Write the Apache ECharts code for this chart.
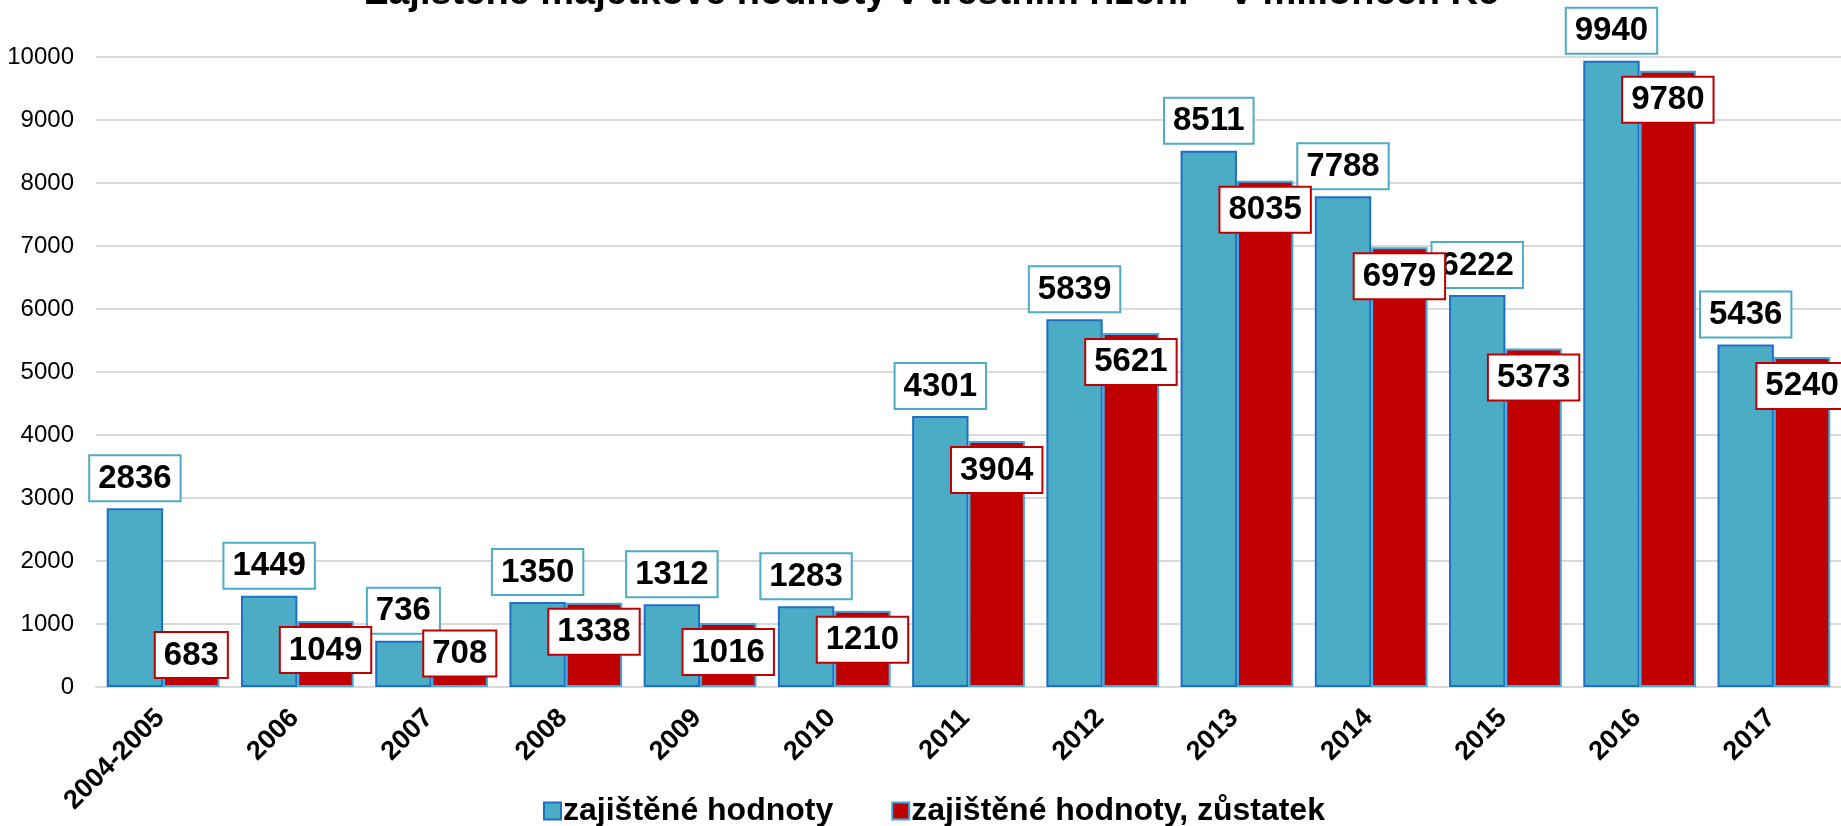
<!DOCTYPE html>
<html>
<head>
<meta charset="utf-8">
<script src="https://cdn.jsdelivr.net/npm/echarts@6/dist/echarts.min.js"></script>
<style>
html,body{margin:0;padding:0;background:#fff;}
#chart{width:1841px;height:826px;}
</style>
</head>
<body>
<div id="chart"></div>
<script>
const titleText = 'Zajištěné majetkové hodnoty v trestním řízení – v milionech Kč';
const categories = ['2004-2005','2006','2007','2008','2009','2010','2011','2012','2013','2014','2015','2016','2017'];
const seriesNames = ['zajištěné hodnoty','zajištěné hodnoty, zůstatek'];
const seized = [2836,1449,736,1350,1312,1283,4301,5839,8511,7788,6222,9940,5436];
const remaining = [683,1049,708,1338,1016,1210,3904,5621,8035,6979,5373,9780,5240];

const FONT = "'Liberation Sans', Arial, sans-serif";
const chart = echarts.init(document.getElementById('chart'), null, {renderer:'canvas'});

const remainingData = remaining.map(v => v < 900 ? {value:v, label:{offset:[0,-18]}} : v);

const labelBase = {
  show:true,
  formatter:'{c}',
  fontFamily:FONT,
  fontSize:33,
  fontWeight:'bold',
  color:'#000',
  backgroundColor:'#fff',
  borderWidth:2,
  padding:[6,8,5,8]
};

chart.setOption({
  animation:false,
  backgroundColor:'#fff',
  title:{
    text:titleText,
    left:927,
    textAlign:'center',
    top:-30,
    textStyle:{fontFamily:FONT,fontSize:38,fontWeight:'bold',color:'#000'}
  },
  legend:{
    data:seriesNames,
    left:538,
    top:790,
    icon:'rect',
    itemWidth:17,
    itemHeight:17,
    itemGap:58,
    textStyle:{fontFamily:FONT,fontSize:32,fontWeight:'bold',color:'#000',padding:[0,0,0,-3]}
  },
  grid:{left:96,top:57,width:1755,height:630,containLabel:false},
  xAxis:{
    type:'category',
    data:categories,
    axisLine:{show:true,lineStyle:{color:'#d9d9d9',width:2}},
    axisTick:{show:false},
    axisLabel:{rotate:45,interval:0,margin:24,fontFamily:FONT,fontSize:27,fontWeight:'bold',color:'#000',padding:[0,4,0,0]}
  },
  yAxis:{
    type:'value',
    min:0,max:10000,interval:1000,
    axisLine:{show:false},
    axisTick:{show:false},
    splitLine:{lineStyle:{color:'#d9d9d9',width:2}},
    axisLabel:{margin:22,fontFamily:FONT,fontSize:24,color:'#000',formatter:v => String(v)}
  },
  series:[
    {
      name:seriesNames[0],
      type:'bar',
      data:seized,
      barGap:'0%',
      barCategoryGap:'16%',
      itemStyle:{color:'#4bacc6',borderColor:'#1f6fc5',borderWidth:2},
      label:Object.assign({},labelBase,{position:'top',distance:8,borderColor:'#4bacc6'}),
      z:2
    },
    {
      name:seriesNames[1],
      type:'bar',
      data:remainingData,
      itemStyle:{color:'#c00000',borderColor:'#3fa9e0',borderWidth:2},
      label:Object.assign({},labelBase,{position:'insideTop',distance:7,borderColor:'#c00000'}),
      z:3
    }
  ]
});
</script>
</body>
</html>
